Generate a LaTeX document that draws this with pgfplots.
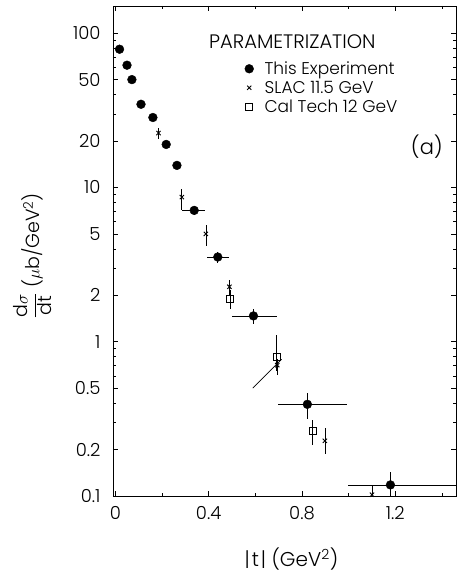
\documentclass[border=0pt]{standalone}
\usepackage{pgfplots}
\pgfplotsset{compat=1.18}
\usepackage{fontspec}
\setmainfont{Poppins Light}

\begin{document}
\begin{tikzpicture}
\begin{axis}[
    name=ax, at={(0,0)}, anchor=south west,
    scale only axis, width=343pt, height=490pt,
    ymode=log,
    xmin=-0.01, xmax=1.46, ymin=0.1, ymax=150,
    xtick={0,0.4,0.8,1.2}, xticklabels={0,0.4,0.8,1.2},
    minor xtick={0.2,0.6,1.0,1.4},
    ytick={0.1,0.2,0.5,1,2,5,10,20,50,100},
    yticklabels={0.1,0.2,0.5,1,2,5,10,20,50,100},
    minor ytick={0.3,0.4,0.6,0.7,0.8,0.9,3,4,6,7,8,9,30,40,60,70,80,90},
    major tick length=5pt, minor tick length=3pt,
    tick style={black, line width=0.6pt},
    axis line style={line width=0.7pt},
    ticklabel style={font=\fontsize{18}{20}\selectfont},
    yticklabel style={xshift=-9pt},
    xticklabel style={yshift=-7pt},
    xlabel={|\kern2pt t\kern2pt| (GeV\textsuperscript{2})},
    xlabel style={font=\fontsize{20}{22}\selectfont, at={(0.52,-0.129)}, anchor=center},
    ylabel={$\displaystyle\frac{\mbox{d}\sigma}{\mbox{dt}}$ ($\mu$b/GeV\textsuperscript{2})},
    ylabel style={font=\fontsize{19}{21}\selectfont, at={(-0.235,0.49)}, anchor=center},
    legend style={draw=none, fill=none, at={(0.375,0.895)}, anchor=north west,
        font=\fontsize{17}{19}\selectfont, row sep=1pt,
        nodes={inner xsep=2pt, inner ysep=2pt},
        /tikz/every odd column/.append style={column sep=9pt}},
    legend cell align=left,
    error bars/error mark=none,
    error bars/error bar style={line width=0.7pt, black},
]
% This Experiment
\addplot[only marks, mark=*, mark size=4.4pt, black,
    error bars/.cd, x dir=both, y dir=both, x explicit, y explicit]
    table[x=x, y=y, x error plus=exp, x error minus=exm, y error plus=eyp, y error minus=eym] {
x     y     exp    exm    eyp    eym
0.018 78.7  0      0      0      0
0.050 62.0  0      0      0      0
0.071 50.0  0      0      0      0
0.110 34.6  0      0      0      0
0.161 28.4  0      0      0      0
0.218 19.0  0      0      0      0
0.264 13.9  0      0      0      0
0.338 7.10  0.047  0.053  0.5    0.5
0.439 3.54  0.050  0.044  0.3    0.3
0.592 1.47  0.100  0.093  0.16   0.17
0.823 0.393 0.171  0.124  0.07   0.077
1.179 0.118 0.300  0.181  0.025  0.018
};
\addlegendentry{This Experiment}
% SLAC 11.5 GeV
\addplot[only marks, mark=x, mark size=3pt, black, line width=0.9pt,
    error bars/.cd, y dir=both, y explicit]
    table[x=x, y=y, y error plus=eyp, y error minus=eym] {
x     y     eyp    eym
0.185 22.5  1.8    1.8
0.285 8.66  1.1    1.5
0.388 5.00  0.67   0.8
0.489 2.27  0.25   0.25
0.694 0.705 0.07   0.1
0.898 0.228 0.046  0.04
1.100 0.102 0.016  0
};
\addlegendentry{SLAC 11.5 GeV}
% Cal Tech 12 GeV
\addplot[only marks, mark=square, mark size=3.5pt, black, line width=0.7pt,
    mark options={fill=white},
    error bars/.cd, y dir=both, y explicit]
    table[x=x, y=y, y error plus=eyp, y error minus=eym] {
x     y     eyp    eym
0.492 1.89  0.26   0.26
0.692 0.80  0.30   0.15
0.846 0.265 0.045  0.05
};
\addlegendentry{Cal Tech 12 GeV}
% short line segment
\addplot[black, line width=0.7pt, forget plot] coordinates {(0.589,0.50)(0.713,0.77)};
\node[anchor=west, font=\fontsize{19.5}{21}\selectfont] at (rel axis cs:0.27,0.927) {PARAMETRIZATION};
\node[font=\fontsize{21}{23}\selectfont] at (rel axis cs:0.915,0.712) {(a)};
\end{axis}
\pgfresetboundingbox
\path[use as bounding box] (-113pt,-78pt) rectangle (345pt,496pt);
\end{tikzpicture}
\end{document}
